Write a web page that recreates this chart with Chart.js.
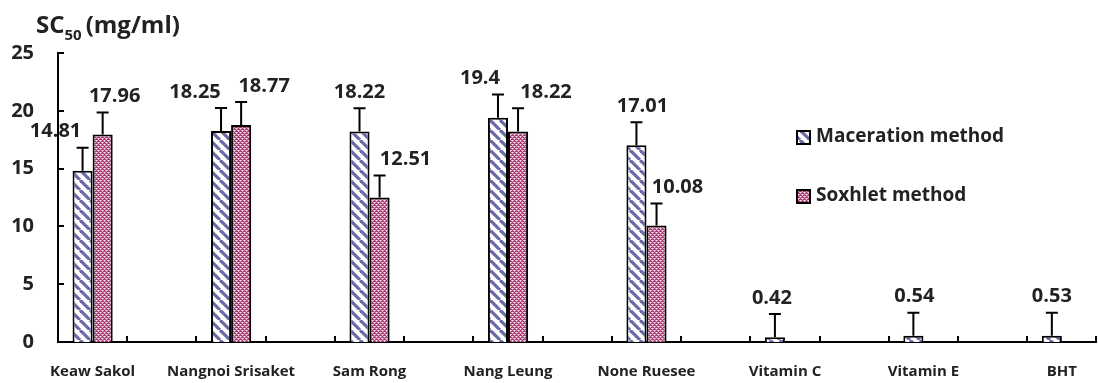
<!DOCTYPE html>
<html>
<head>
<meta charset="utf-8">
<script src="https://cdn.jsdelivr.net/npm/chart.js@4/dist/chart.umd.min.js"></script>
<style>
  html, body { margin: 0; padding: 0; background: #fff; }
  #chart { display: block; }
</style>
</head>
<body>
<canvas id="chart" width="1098" height="383"></canvas>
<script>
// data
const categories = ['Keaw Sakol', 'Nangnoi Srisaket', 'Sam Rong', 'Nang Leung', 'None Ruesee', 'Vitamin C', 'Vitamin E', 'BHT'];
const maceration = [14.81, 18.25, 18.22, 19.4, 17.01, 0.42, 0.54, 0.53];
const soxhlet = [17.96, 18.77, 12.51, 18.22, 10.08, null, null, null];
const macerationErr = [2.0, 2.0, 2.0, 2.0, 2.0, 2.0, 2.0, 2.0];
const soxhletErr = [1.9, 2.0, 1.9, 2.0, 1.9, null, null, null];
const yTicks = [0, 5, 10, 15, 20, 25];

const FONT = "'Open Sans', 'Liberation Sans', sans-serif";
const TEXT = '#222';

// excel sheet had blank rows between the samples -> empty category after each one
function spread(arr) {
  const out = [];
  arr.forEach((v, i) => {
    out.push(v);
    if (i < arr.length - 1) out.push(typeof v === 'string' ? '' : null);
  });
  return out;
}

const ctx = document.getElementById('chart').getContext('2d');

// hatch fills
function stripePattern() {
  const c = document.createElement('canvas');
  c.width = 10; c.height = 10;
  const g = c.getContext('2d');
  g.fillStyle = '#fff';
  g.fillRect(0, 0, 10, 10);
  g.strokeStyle = '#6a6aa8';
  g.lineWidth = 3.2;
  for (const x0 of [-10, 0, 10]) {
    g.beginPath();
    g.moveTo(x0, 0);
    g.lineTo(x0 + 10, 10);
    g.stroke();
  }
  return ctx.createPattern(c, 'repeat');
}

function checkPattern() {
  const c = document.createElement('canvas');
  c.width = 4; c.height = 4;
  const g = c.getContext('2d');
  g.fillStyle = '#a33a72';
  g.fillRect(0, 0, 4, 4);
  g.fillStyle = '#f6e2ec';
  g.fillRect(0, 0, 1, 1);
  g.fillRect(2, 2, 1, 1);
  g.fillStyle = '#dca5c1';
  g.fillRect(1, 0, 1, 1);
  g.fillRect(0, 1, 1, 1);
  g.fillRect(3, 2, 1, 1);
  g.fillRect(2, 3, 1, 1);
  g.fillRect(3, 0, 1, 1);
  g.fillRect(1, 2, 1, 1);
  return ctx.createPattern(c, 'repeat');
}

const macFill = stripePattern();
const soxFill = checkPattern();

// error bars (upper side only)
const errorBars = {
  id: 'errorBars',
  afterDatasetsDraw(chart) {
    const g = chart.ctx;
    const y = chart.scales.y;
    const errs = [spread(macerationErr), spread(soxhletErr)];
    g.save();
    g.strokeStyle = '#000';
    g.lineWidth = 2;
    chart.data.datasets.forEach((ds, di) => {
      chart.getDatasetMeta(di).data.forEach((el, i) => {
        const v = ds.data[i];
        const e = errs[di][i];
        if (v == null || e == null) return;
        const top = y.getPixelForValue(v + e);
        g.beginPath();
        g.moveTo(el.x, el.y);
        g.lineTo(el.x, top);
        g.moveTo(el.x - 6, top);
        g.lineTo(el.x + 6, top);
        g.stroke();
      });
    });
    g.restore();
  }
};

// value labels, nudged sideways like the hand-placed ones in the original
const valueLabels = {
  id: 'valueLabels',
  afterDraw(chart, args, opts) {
    const g = chart.ctx;
    const y = chart.scales.y;
    const errs = [spread(macerationErr), spread(soxhletErr)];
    g.save();
    g.font = 'bold 20px ' + FONT;
    g.fillStyle = TEXT;
    g.textAlign = 'center';
    g.textBaseline = 'middle';
    chart.data.datasets.forEach((ds, di) => {
      let n = 0;
      chart.getDatasetMeta(di).data.forEach((el, i) => {
        const v = ds.data[i];
        if (v == null) return;
        const dx = opts.nudge[di][n++] || 0;
        const top = y.getPixelForValue(v + (errs[di][i] || 0));
        g.fillText(String(v), el.x + dx, top - 16);
      });
    });
    g.restore();
  }
};

// tick marks pointing into the plot
const innerTicks = {
  id: 'innerTicks',
  afterDraw(chart) {
    const g = chart.ctx;
    const { x, y } = chart.scales;
    const area = chart.chartArea;
    g.save();
    g.strokeStyle = '#000';
    g.lineWidth = 2;
    g.beginPath();
    yTicks.forEach(t => {
      if (t === 0) return;
      const py = Math.round(y.getPixelForValue(t));
      g.moveTo(area.left, py);
      g.lineTo(area.left + 6, py);
    });
    const half = (x.getPixelForValue(1) - x.getPixelForValue(0)) / 2;
    for (let k = 0; k < x.ticks.length; k++) {
      const px = Math.round(x.getPixelForValue(k) + half);
      g.moveTo(px, area.bottom);
      g.lineTo(px, area.bottom - 6);
    }
    g.stroke();
    g.restore();
  }
};

// axis title and legend
const extras = {
  id: 'extras',
  afterDraw(chart) {
    const g = chart.ctx;
    g.save();
    g.fillStyle = TEXT;
    g.textBaseline = 'alphabetic';
    g.textAlign = 'left';
    g.font = 'bold 24px ' + FONT;
    g.fillText('SC', 36, 33);
    let w = g.measureText('SC').width;
    g.font = 'bold 15px ' + FONT;
    g.fillText('50', 36 + w, 40);
    w += g.measureText('50').width + 4;
    g.font = 'bold 24px ' + FONT;
    g.fillText('(mg/ml)', 36 + w, 33);

    const items = [
      { label: chart.data.datasets[0].label, fill: macFill, cy: 137 },
      { label: chart.data.datasets[1].label, fill: soxFill, cy: 196 }
    ];
    g.font = 'bold 19px ' + FONT;
    g.textBaseline = 'middle';
    items.forEach(it => {
      g.fillStyle = it.fill;
      g.fillRect(797, it.cy - 6, 13, 13);
      g.strokeStyle = '#000';
      g.lineWidth = 2;
      g.strokeRect(797, it.cy - 6, 13, 13);
      g.fillStyle = TEXT;
      g.fillText(it.label, 816, it.cy);
    });
    g.restore();
  }
};

new Chart(ctx, {
  type: 'bar',
  data: {
    labels: spread(categories),
    datasets: [
      {
        label: 'Maceration method',
        data: spread(maceration),
        backgroundColor: macFill,
        borderColor: '#000',
        borderWidth: 2,
        borderSkipped: 'bottom',
        categoryPercentage: 0.58,
        barPercentage: 1.0
      },
      {
        label: 'Soxhlet method',
        data: spread(soxhlet),
        backgroundColor: soxFill,
        borderColor: '#000',
        borderWidth: 2,
        borderSkipped: 'bottom',
        categoryPercentage: 0.58,
        barPercentage: 1.0
      }
    ]
  },
  options: {
    responsive: false,
    animation: false,
    devicePixelRatio: 1,
    layout: { padding: { top: 53, right: 0, left: 0, bottom: 0 } },
    scales: {
      x: {
        grid: { display: false, drawTicks: false },
        border: { color: '#000', width: 2 },
        ticks: {
          autoSkip: false,
          maxRotation: 0,
          padding: 21,
          color: TEXT,
          font: { family: FONT, size: 15, weight: 'bold' }
        },
        afterFit: s => { s.height = 41; }
      },
      y: {
        min: 0,
        max: 25,
        grid: { display: false, drawTicks: false },
        border: { color: '#000', width: 2 },
        afterBuildTicks: s => { s.ticks = yTicks.map(v => ({ value: v })); },
        ticks: {
          padding: 24,
          color: TEXT,
          font: { family: FONT, size: 20, weight: 'bold' }
        },
        afterFit: s => { s.width = 58; }
      }
    },
    plugins: {
      legend: { display: false },
      tooltip: { enabled: false },
      valueLabels: {
        nudge: [
          [-27, -26, 0, -18, 6, -3, 1, 0],
          [12, 23, 26, 28, 21]
        ]
      }
    }
  },
  plugins: [errorBars, valueLabels, innerTicks, extras]
});
</script>
</body>
</html>
